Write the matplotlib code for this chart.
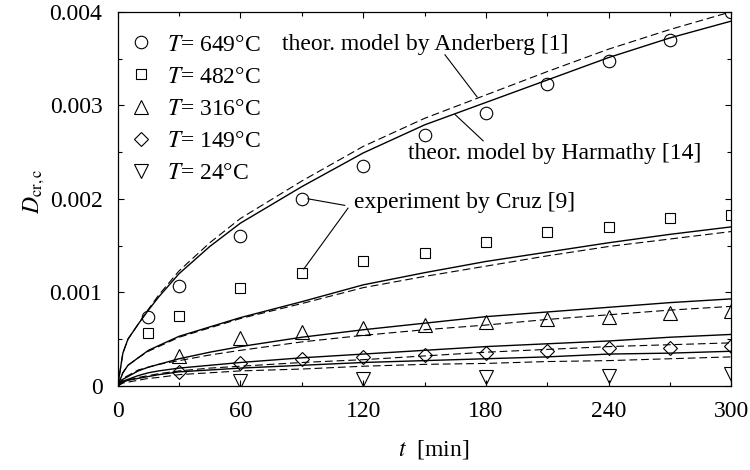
import matplotlib
matplotlib.use("Agg")
import matplotlib.pyplot as plt
from matplotlib.ticker import MultipleLocator, FuncFormatter

plt.rcParams["font.family"] = ["Liberation Serif", "DejaVu Serif"]
plt.rcParams["mathtext.fontset"] = "stix"

# Experimental data (Cruz) -- time in minutes, D_cr,c
t_exp = [15, 30, 60, 90, 120, 150, 180, 210, 240, 270, 300]
d_649 = [0.00074, 0.00107, 0.00160, 0.00200, 0.00235, 0.00268, 0.00292,
         0.00323, 0.00347, 0.00370, 0.00400]
d_482 = [0.00056, 0.00075, 0.00105, 0.00121, 0.00133, 0.00142, 0.00154,
         0.00165, 0.00170, 0.00179, 0.00183]
t_316 = [30, 60, 90, 120, 150, 180, 210, 240, 270, 300]
d_316 = [0.00032, 0.00051, 0.00058, 0.00062, 0.00065, 0.00068, 0.00072,
         0.00074, 0.00078, 0.00080]
t_149 = [30, 60, 90, 120, 150, 180, 210, 240, 270, 300]
d_149 = [0.00015, 0.00024, 0.00029, 0.00031, 0.00033, 0.00035, 0.00037,
         0.00040, 0.00041, 0.00043]
t_24 = [60, 120, 180, 240, 300]
d_24 = [0.00005, 0.00007, 0.00010, 0.00011, 0.00013]

# Model curves: solid = Harmathy, dashed = Anderberg
t_mod = [0, 2.5, 5, 10, 15, 20, 30, 45, 60, 90, 120, 150, 180, 210, 240, 270, 300]
harm_649 = [0, 0.00035, 0.00050, 0.00066, 0.00081, 0.00095, 0.00120, 0.00149,
            0.00174, 0.00213, 0.00249, 0.00279, 0.00303, 0.00327, 0.00351,
            0.00372, 0.00390]
and_649 = [0, 0.00035, 0.00050, 0.00066, 0.00082, 0.00097, 0.00123, 0.00153,
           0.00179, 0.00219, 0.00256, 0.00286, 0.00311, 0.00336, 0.00360,
           0.00381, 0.00400]
harm_482 = [0, 0.00014, 0.00022, 0.00030, 0.00038, 0.00043, 0.00053, 0.00063,
            0.00073, 0.00090, 0.00108, 0.00121, 0.00133, 0.00143, 0.00153,
            0.00162, 0.00170]
and_482 = [0, 0.00014, 0.00022, 0.00030, 0.00037, 0.00042, 0.00052, 0.00062,
           0.00072, 0.00088, 0.00105, 0.00117, 0.00128, 0.00139, 0.00149,
           0.00157, 0.00165]
harm_316 = [0, 0.00007, 0.00010, 0.00016, 0.00020, 0.00023, 0.00029, 0.00036,
            0.00042, 0.00052, 0.00060, 0.00067, 0.00074, 0.00079, 0.00084,
            0.00089, 0.00093]
and_316 = [0, 0.00008, 0.00011, 0.00017, 0.00020, 0.00023, 0.00027, 0.00033,
           0.00038, 0.00047, 0.00054, 0.00060, 0.00065, 0.00071, 0.00076,
           0.00081, 0.00085]
harm_149 = [0, 0.00005, 0.00007, 0.00011, 0.00014, 0.00016, 0.00019, 0.00022,
            0.00025, 0.00030, 0.00034, 0.00038, 0.00042, 0.00045, 0.00048,
            0.00052, 0.00055]
and_149 = [0, 0.00004, 0.00006, 0.00009, 0.00011, 0.00013, 0.00016, 0.00019,
           0.00021, 0.00025, 0.00028, 0.00032, 0.00036, 0.00039, 0.00042,
           0.00044, 0.00046]
harm_24 = [0, 0.00004, 0.00006, 0.00008, 0.00010, 0.00012, 0.00015, 0.00017,
           0.00019, 0.00022, 0.00025, 0.00027, 0.00029, 0.00031, 0.00034,
           0.00035, 0.00037]
and_24 = [0, 0.00003, 0.00004, 0.00006, 0.00008, 0.00009, 0.00012, 0.00014,
          0.00016, 0.00018, 0.00021, 0.00023, 0.00024, 0.00026, 0.00027,
          0.00029, 0.00031]

temps = ["649", "482", "316", "149", "24"]

fig = plt.figure(figsize=(7.5, 4.7), dpi=100)
ax = fig.add_axes([0.157, 0.179, 0.818, 0.796])

for y in (harm_649, harm_482, harm_316, harm_149, harm_24):
    ax.plot(t_mod, y, color="black", lw=1.0, solid_capstyle="butt")
for y in (and_649, and_482, and_316, and_149, and_24):
    ax.plot(t_mod, y, color="black", lw=0.8, dashes=(7, 3.5))

mk = dict(linestyle="none", markerfacecolor="none", markeredgecolor="black",
          markeredgewidth=0.8)
h1, = ax.plot(t_exp, d_649, marker="o", markersize=9, **mk)
h2, = ax.plot(t_exp, d_482, marker="s", markersize=7.5, **mk)
h3, = ax.plot(t_316, d_316, marker="^", markersize=9.5, **mk)
h4, = ax.plot(t_149, d_149, marker="D", markersize=7, **mk)
h5, = ax.plot(t_24, d_24, marker="v", markersize=9.5, **mk)

labels = [r"$T$= " + tc + "°C" for tc in temps]
ax.legend([h1, h2, h3, h4, h5], labels, loc="upper left", frameon=False,
          fontsize=17, handlelength=1.0, handletextpad=0.6, labelspacing=0.45,
          borderaxespad=0.1, bbox_to_anchor=(0.0, 0.972))

ax.set_xlim(0, 300)
ax.set_ylim(0, 0.004)
ax.xaxis.set_major_locator(MultipleLocator(60))
ax.xaxis.set_minor_locator(MultipleLocator(30))
ax.yaxis.set_major_locator(MultipleLocator(0.001))
ax.yaxis.set_minor_locator(MultipleLocator(0.0005))
ax.yaxis.set_major_formatter(FuncFormatter(lambda v, p: "0" if v == 0 else f"{v:.3f}"))
ax.tick_params(which="both", direction="in", top=True, right=True,
               labelsize=17, width=0.8)
ax.tick_params(which="major", length=4)
ax.tick_params(which="minor", length=2.8)
ax.tick_params(axis="x", which="major", pad=11)
ax.tick_params(axis="y", which="major", pad=11)
for s in ax.spines.values():
    s.set_linewidth(0.9)

ax.set_xlabel(r"$t$  [min]", fontsize=17)
ax.xaxis.set_label_coords(0.515, -0.14)
ax.set_ylabel(r"$D_{\mathrm{cr,c}}$", fontsize=17)
ax.yaxis.set_label_coords(-0.115, 0.521)

# Annotations with leader lines
lk = dict(color="black", lw=0.8)
ax.text(80.5, 0.00365, "theor. model by Anderberg [1]", fontsize=17,
        va="center", ha="left")
ax.plot([160, 175.7], [0.00354, 0.00309], **lk)
ax.text(142, 0.00248, "theor. model by Harmathy [14]", fontsize=17,
        va="center", ha="left")
ax.plot([165, 178.7], [0.00290, 0.00262], **lk)
ax.text(115.5, 0.00196, "experiment by Cruz [9]", fontsize=17,
        va="center", ha="left")
ax.plot([93, 111], [0.00200, 0.00193], **lk)
ax.plot([112.6, 91], [0.00190, 0.00125], **lk)

fig.savefig("out.png", dpi=100)
